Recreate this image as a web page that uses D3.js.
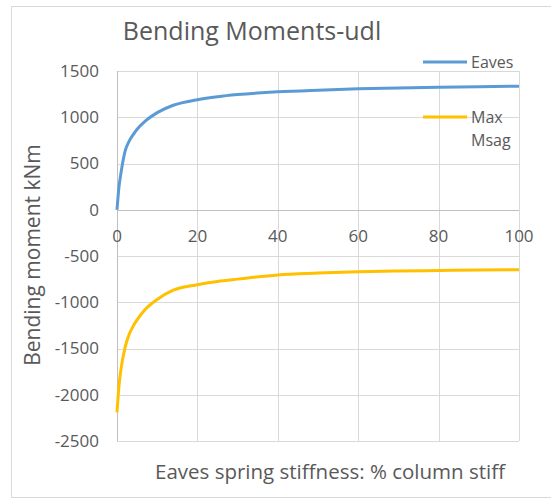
<!DOCTYPE html>
<html>
<head>
<meta charset="utf-8">
<script src="https://cdn.jsdelivr.net/npm/d3@7"></script>
<style>
  body { margin: 0; background: #fff; }
  text { font-family: 'Open Sans', sans-serif; fill: #595959; }
</style>
</head>
<body>
<svg id="chart" width="551" height="500"></svg>
<script>
// stiffness as % of column stiffness
const stiffness = [0, 0.5, 1, 2, 3, 4, 5, 7, 10, 14, 20, 25, 30, 40, 50, 60, 70, 80, 90, 100];
const eaves = [0, 250, 400, 630, 740, 810, 870, 957, 1050, 1130, 1190, 1222, 1245, 1275, 1293, 1307, 1317, 1325, 1331, 1336];
const maxMsag = [-2190, -1900, -1720, -1490, -1350, -1260, -1190, -1079, -970, -870, -810, -775, -750, -705, -685, -670, -662, -657, -652, -648];
const xTicks = [0, 20, 40, 60, 80, 100];
const yTicks = [1500, 1000, 500, 0, -500, -1000, -1500, -2000, -2500];

const svg = d3.select('#chart');

const x = d3.scaleLinear().domain([0, 100]).range([117, 519]);
const y = d3.scaleLinear().domain([-2500, 1500]).range([441, 71]);

// outer chart border
svg.append('rect')
.attr('x', 11.5).attr('y', 6.5)
.attr('width', 560).attr('height', 491)
.attr('fill', 'none')
.attr('stroke', '#d9d9d9');

// grid
svg.append('g')
.selectAll('line')
.data(yTicks)
.enter()
.append('line')
.attr('x1', x(0)).attr('x2', x(100))
.attr('y1', d => Math.round(y(d)) + 0.5).attr('y2', d => Math.round(y(d)) + 0.5)
.attr('stroke', '#d9d9d9');

svg.append('g')
.selectAll('line')
.data(xTicks.slice(1))
.enter()
.append('line')
.attr('x1', d => Math.round(x(d)) + 0.5).attr('x2', d => Math.round(x(d)) + 0.5)
.attr('y1', y(1500)).attr('y2', y(-2500))
.attr('stroke', '#d9d9d9');

// axis lines
svg.append('line')
.attr('x1', x(0)).attr('x2', x(100))
.attr('y1', Math.round(y(0)) + 0.5).attr('y2', Math.round(y(0)) + 0.5)
.attr('stroke', '#bfbfbf');
svg.append('line')
.attr('x1', Math.round(x(0)) + 0.5).attr('x2', Math.round(x(0)) + 0.5)
.attr('y1', y(1500)).attr('y2', y(-2500))
.attr('stroke', '#bfbfbf');

// tick labels
svg.append('g')
.selectAll('text')
.data(yTicks)
.enter()
.append('text')
.attr('x', 99)
.attr('y', d => y(d))
.attr('dy', '0.35em')
.attr('text-anchor', 'end')
.style('font-size', '17px')
.text(d => d);

svg.append('g')
.selectAll('text')
.data(xTicks)
.enter()
.append('text')
.attr('x', d => x(d))
.attr('y', y(0) + 26)
.attr('dy', '0.35em')
.attr('text-anchor', 'middle')
.style('font-size', '17px')
.text(d => d);

// lines
const series = [
  {name: 'Eaves', values: eaves, color: '#5b9bd5'},
  {name: 'Max Msag', values: maxMsag, color: '#ffc000'}
];

const line = d3.line()
.x(d => x(d[0]))
.y(d => y(d[1]))
.curve(d3.curveMonotoneX);

series.forEach(s => {
  svg.append('path')
  .datum(stiffness.map((k, i) => [k, s.values[i]]))
  .attr('d', line)
  .attr('fill', 'none')
  .attr('stroke', s.color)
  .attr('stroke-width', 3);
});

// legend
svg.append('line').attr('x1', 423).attr('x2', 467).attr('y1', 62).attr('y2', 62)
.attr('stroke', '#5b9bd5').attr('stroke-width', 3);
svg.append('text').attr('x', 471).attr('y', 62).attr('dy', '0.35em')
.style('font-size', '16px').text('Eaves');

svg.append('line').attr('x1', 423).attr('x2', 467).attr('y1', 117).attr('y2', 117)
.attr('stroke', '#ffc000').attr('stroke-width', 3);
svg.append('text').attr('x', 471).attr('y', 117).attr('dy', '0.35em')
.style('font-size', '16px').text('Max');
svg.append('text').attr('x', 471).attr('y', 140).attr('dy', '0.35em')
.style('font-size', '16px').text('Msag');

// titles
svg.append('text')
.attr('x', 252).attr('y', 31).attr('dy', '0.35em')
.attr('text-anchor', 'middle')
.style('font-size', '25px')
.text('Bending Moments-udl');

svg.append('text')
.attr('x', 330).attr('y', 472).attr('dy', '0.35em')
.attr('text-anchor', 'middle')
.style('font-size', '20.5px')
.text('Eaves spring stiffness: % column stiff');

svg.append('text')
.attr('transform', 'translate(33, 255) rotate(-90)')
.attr('dy', '0.35em')
.attr('text-anchor', 'middle')
.style('font-size', '21px')
.text('Bending moment kNm');
</script>
</body>
</html>
